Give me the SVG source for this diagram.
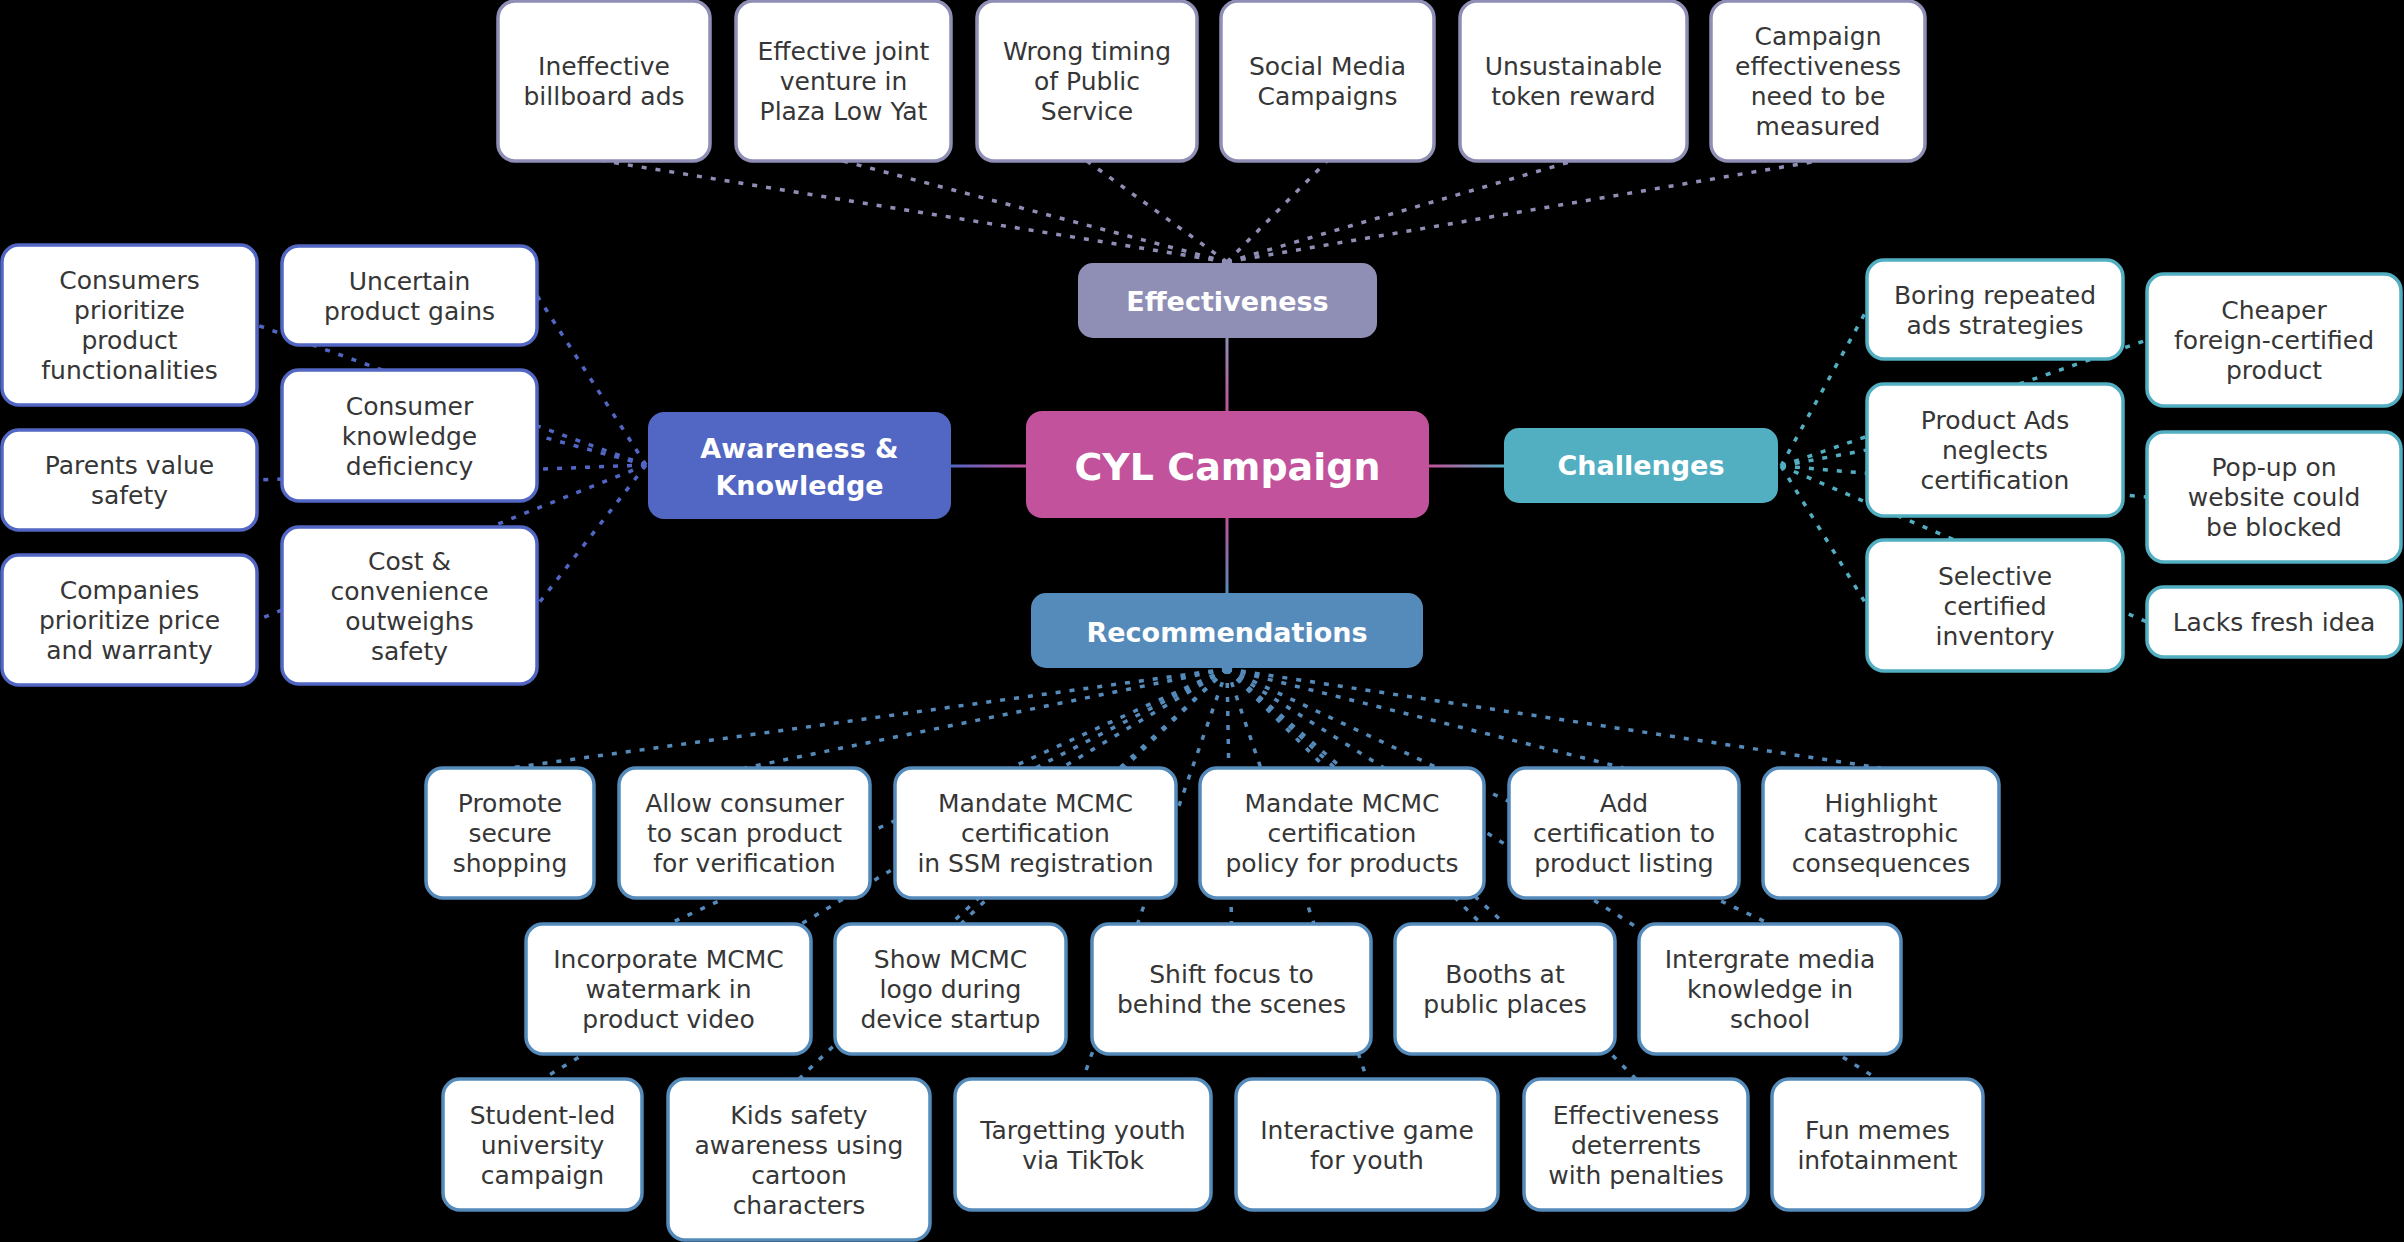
<svg xmlns="http://www.w3.org/2000/svg" width="2404" height="1242" viewBox="0 0 2404 1242">
<defs>
<style>
.box{fill:#ffffff;stroke-width:3.5}
.ef{stroke:#8f8fb6}
.aw{stroke:#5266c3}
.ch{stroke:#52afc2}
.re{stroke:#558bbb}
.t{font-family:'DejaVu Sans','Liberation Sans',sans-serif;font-size:25px;fill:#363636;text-anchor:middle}
.h{font-family:'DejaVu Sans','Liberation Sans',sans-serif;font-weight:bold;font-size:27px;fill:#ffffff;text-anchor:middle}
.d{fill:none;stroke-width:3.5;stroke-dasharray:5 9}
.s{fill:none;stroke-width:3}
</style>
<linearGradient id="gEf" gradientUnits="userSpaceOnUse" x1="1227" y1="338" x2="1227" y2="411"><stop offset="0" stop-color="#8f8fb6"/><stop offset="1" stop-color="#c1529b"/></linearGradient>
<linearGradient id="gRe" gradientUnits="userSpaceOnUse" x1="1227" y1="518" x2="1227" y2="593"><stop offset="0" stop-color="#c1529b"/><stop offset="1" stop-color="#558bbb"/></linearGradient>
<linearGradient id="gAw" gradientUnits="userSpaceOnUse" x1="951" y1="466" x2="1026" y2="466"><stop offset="0" stop-color="#5266c3"/><stop offset="1" stop-color="#c1529b"/></linearGradient>
<linearGradient id="gCh" gradientUnits="userSpaceOnUse" x1="1429" y1="466" x2="1504" y2="466"><stop offset="0" stop-color="#c1529b"/><stop offset="1" stop-color="#52afc2"/></linearGradient>
</defs>
<rect x="0" y="0" width="2404" height="1242" fill="#000000"/>

<g id="connectors">
<line class="s" stroke="url(#gEf)" x1="1227" y1="338" x2="1227" y2="411"/>
<line class="s" stroke="url(#gRe)" x1="1227" y1="518" x2="1227" y2="593"/>
<line class="s" stroke="url(#gAw)" x1="951" y1="466" x2="1026" y2="466"/>
<line class="s" stroke="url(#gCh)" x1="1429" y1="466" x2="1504" y2="466"/>
<g class="d ef">
<line x1="1227" y1="262" x2="604" y2="161"/>
<line x1="1227" y1="262" x2="843" y2="161"/>
<line x1="1227" y1="262" x2="1087" y2="161"/>
<line x1="1227" y1="262" x2="1327" y2="161"/>
<line x1="1227" y1="262" x2="1573" y2="161"/>
<line x1="1227" y1="262" x2="1818" y2="161"/>
</g>
<g class="d aw">
<line x1="646" y1="465" x2="257" y2="325"/>
<line x1="646" y1="465" x2="537" y2="295.5"/>
<line x1="646" y1="465" x2="537" y2="435.5"/>
<line x1="646" y1="465" x2="257" y2="480"/>
<line x1="646" y1="465" x2="257" y2="620"/>
<line x1="646" y1="465" x2="537" y2="605.5"/>
</g>
<g class="d ch">
<line x1="1781" y1="466" x2="1867" y2="309.5"/>
<line x1="1781" y1="466" x2="2147" y2="340"/>
<line x1="1781" y1="466" x2="1867" y2="450"/>
<line x1="1781" y1="466" x2="2147" y2="497"/>
<line x1="1781" y1="466" x2="1867" y2="605.5"/>
<line x1="1781" y1="466" x2="2147" y2="622"/>
</g>
<g class="d re">
<line x1="1227" y1="669" x2="510" y2="768"/>
<line x1="1227" y1="669" x2="744.5" y2="768"/>
<line x1="1227" y1="669" x2="1035.5" y2="768"/>
<line x1="1227" y1="669" x2="1342" y2="768"/>
<line x1="1227" y1="669" x2="1624" y2="768"/>
<line x1="1227" y1="669" x2="1881" y2="768"/>
<line x1="1227" y1="669" x2="668.5" y2="924"/>
<line x1="1227" y1="669" x2="950.5" y2="924"/>
<line x1="1227" y1="669" x2="1231.5" y2="924"/>
<line x1="1227" y1="669" x2="1505" y2="924"/>
<line x1="1227" y1="669" x2="1770" y2="924"/>
<line x1="1227" y1="669" x2="542.5" y2="1079"/>
<line x1="1227" y1="669" x2="799" y2="1079"/>
<line x1="1227" y1="669" x2="1083" y2="1079"/>
<line x1="1227" y1="669" x2="1367" y2="1079"/>
<line x1="1227" y1="669" x2="1636" y2="1079"/>
<line x1="1227" y1="669" x2="1877.5" y2="1079"/>
</g>
</g>

<g id="hub-cyl"><rect x="1026" y="411" width="403" height="107" rx="16" fill="#c1529b"/><text class="h" style="font-size:38px" x="1227.5" y="480">CYL Campaign</text></g>
<g id="hub-effectiveness"><rect x="1078" y="263" width="299" height="75" rx="15" fill="#8f8fb6"/><text class="h" x="1227.5" y="311">Effectiveness</text></g>
<g id="hub-awareness"><rect x="648" y="412" width="303" height="107" rx="16" fill="#5266c3"/><text class="h" x="799.5" y="458">Awareness &amp;</text><text class="h" x="799.5" y="495">Knowledge</text></g>
<g id="hub-challenges"><rect x="1504" y="428" width="274" height="75" rx="15" fill="#52afc2"/><text class="h" x="1641" y="475">Challenges</text></g>
<g id="hub-recommendations"><rect x="1031" y="593" width="392" height="75" rx="15" fill="#558bbb"/><text class="h" x="1227" y="642">Recommendations</text></g>

<g id="e1"><rect class="box ef" x="498" y="1" width="212" height="160" rx="17"/><text class="t" x="604" y="75">Ineffective</text><text class="t" x="604" y="105">billboard ads</text></g>
<g id="e2"><rect class="box ef" x="736" y="1" width="215" height="160" rx="17"/><text class="t" x="843.5" y="60">Effective joint</text><text class="t" x="843.5" y="90">venture in</text><text class="t" x="843.5" y="120">Plaza Low Yat</text></g>
<g id="e3"><rect class="box ef" x="977" y="1" width="220" height="160" rx="17"/><text class="t" x="1087" y="60">Wrong timing</text><text class="t" x="1087" y="90">of Public</text><text class="t" x="1087" y="120">Service</text></g>
<g id="e4"><rect class="box ef" x="1221" y="1" width="213" height="160" rx="17"/><text class="t" x="1327.5" y="75">Social Media</text><text class="t" x="1327.5" y="105">Campaigns</text></g>
<g id="e5"><rect class="box ef" x="1460" y="1" width="227" height="160" rx="17"/><text class="t" x="1573.5" y="75">Unsustainable</text><text class="t" x="1573.5" y="105">token reward</text></g>
<g id="e6"><rect class="box ef" x="1711" y="1" width="214" height="160" rx="17"/><text class="t" x="1818" y="45">Campaign</text><text class="t" x="1818" y="75">effectiveness</text><text class="t" x="1818" y="105">need to be</text><text class="t" x="1818" y="135">measured</text></g>

<g id="a1"><rect class="box aw" x="2" y="245" width="255" height="160" rx="17"/><text class="t" x="129.5" y="289">Consumers</text><text class="t" x="129.5" y="319">prioritize</text><text class="t" x="129.5" y="349">product</text><text class="t" x="129.5" y="379">functionalities</text></g>
<g id="a2"><rect class="box aw" x="282" y="246" width="255" height="99" rx="17"/><text class="t" x="409.5" y="290">Uncertain</text><text class="t" x="409.5" y="320">product gains</text></g>
<g id="a3"><rect class="box aw" x="282" y="370" width="255" height="131" rx="17"/><text class="t" x="409.5" y="414.5">Consumer</text><text class="t" x="409.5" y="444.5">knowledge</text><text class="t" x="409.5" y="474.5">deficiency</text></g>
<g id="a4"><rect class="box aw" x="2" y="430" width="255" height="100" rx="17"/><text class="t" x="129.5" y="474">Parents value</text><text class="t" x="129.5" y="504">safety</text></g>
<g id="a5"><rect class="box aw" x="2" y="555" width="255" height="130" rx="17"/><text class="t" x="129.5" y="599">Companies</text><text class="t" x="129.5" y="629">prioritize price</text><text class="t" x="129.5" y="659">and warranty</text></g>
<g id="a6"><rect class="box aw" x="282" y="527" width="255" height="157" rx="17"/><text class="t" x="409.5" y="569.5">Cost &amp;</text><text class="t" x="409.5" y="599.5">convenience</text><text class="t" x="409.5" y="629.5">outweighs</text><text class="t" x="409.5" y="659.5">safety</text></g>

<g id="c1"><rect class="box ch" x="1867" y="260" width="256" height="99" rx="17"/><text class="t" x="1995" y="303.5">Boring repeated</text><text class="t" x="1995" y="333.5">ads strategies</text></g>
<g id="c2"><rect class="box ch" x="2147" y="274" width="254" height="132" rx="17"/><text class="t" x="2274" y="319">Cheaper</text><text class="t" x="2274" y="349">foreign-certified</text><text class="t" x="2274" y="379">product</text></g>
<g id="c3"><rect class="box ch" x="1867" y="384" width="256" height="132" rx="17"/><text class="t" x="1995" y="429">Product Ads</text><text class="t" x="1995" y="459">neglects</text><text class="t" x="1995" y="489">certification</text></g>
<g id="c4"><rect class="box ch" x="2147" y="432" width="254" height="130" rx="17"/><text class="t" x="2274" y="476">Pop-up on</text><text class="t" x="2274" y="506">website could</text><text class="t" x="2274" y="536">be blocked</text></g>
<g id="c5"><rect class="box ch" x="1867" y="540" width="256" height="131" rx="17"/><text class="t" x="1995" y="584.5">Selective</text><text class="t" x="1995" y="614.5">certified</text><text class="t" x="1995" y="644.5">inventory</text></g>
<g id="c6"><rect class="box ch" x="2147" y="587" width="254" height="70" rx="17"/><text class="t" x="2274" y="631">Lacks fresh idea</text></g>

<g id="r1"><rect class="box re" x="426" y="768" width="168" height="130" rx="17"/><text class="t" x="510" y="812">Promote</text><text class="t" x="510" y="842">secure</text><text class="t" x="510" y="872">shopping</text></g>
<g id="r2"><rect class="box re" x="619" y="768" width="251" height="130" rx="17"/><text class="t" x="744.5" y="812">Allow consumer</text><text class="t" x="744.5" y="842">to scan product</text><text class="t" x="744.5" y="872">for verification</text></g>
<g id="r3"><rect class="box re" x="895" y="768" width="281" height="130" rx="17"/><text class="t" x="1035.5" y="812">Mandate MCMC</text><text class="t" x="1035.5" y="842">certification</text><text class="t" x="1035.5" y="872">in SSM registration</text></g>
<g id="r4"><rect class="box re" x="1200" y="768" width="284" height="130" rx="17"/><text class="t" x="1342" y="812">Mandate MCMC</text><text class="t" x="1342" y="842">certification</text><text class="t" x="1342" y="872">policy for products</text></g>
<g id="r5"><rect class="box re" x="1509" y="768" width="230" height="130" rx="17"/><text class="t" x="1624" y="812">Add</text><text class="t" x="1624" y="842">certification to</text><text class="t" x="1624" y="872">product listing</text></g>
<g id="r6"><rect class="box re" x="1763" y="768" width="236" height="130" rx="17"/><text class="t" x="1881" y="812">Highlight</text><text class="t" x="1881" y="842">catastrophic</text><text class="t" x="1881" y="872">consequences</text></g>

<g id="r7"><rect class="box re" x="526" y="924" width="285" height="130" rx="17"/><text class="t" x="668.5" y="968">Incorporate MCMC</text><text class="t" x="668.5" y="998">watermark in</text><text class="t" x="668.5" y="1028">product video</text></g>
<g id="r8"><rect class="box re" x="835" y="924" width="231" height="130" rx="17"/><text class="t" x="950.5" y="968">Show MCMC</text><text class="t" x="950.5" y="998">logo during</text><text class="t" x="950.5" y="1028">device startup</text></g>
<g id="r9"><rect class="box re" x="1092" y="924" width="279" height="130" rx="17"/><text class="t" x="1231.5" y="983">Shift focus to</text><text class="t" x="1231.5" y="1013">behind the scenes</text></g>
<g id="r10"><rect class="box re" x="1395" y="924" width="220" height="130" rx="17"/><text class="t" x="1505" y="983">Booths at</text><text class="t" x="1505" y="1013">public places</text></g>
<g id="r11"><rect class="box re" x="1639" y="924" width="262" height="130" rx="17"/><text class="t" x="1770" y="968">Intergrate media</text><text class="t" x="1770" y="998">knowledge in</text><text class="t" x="1770" y="1028">school</text></g>

<g id="r12"><rect class="box re" x="443" y="1079" width="199" height="131" rx="17"/><text class="t" x="542.5" y="1123.5">Student-led</text><text class="t" x="542.5" y="1153.5">university</text><text class="t" x="542.5" y="1183.5">campaign</text></g>
<g id="r13"><rect class="box re" x="668" y="1079" width="262" height="161" rx="17"/><text class="t" x="799" y="1123.5">Kids safety</text><text class="t" x="799" y="1153.5">awareness using</text><text class="t" x="799" y="1183.5">cartoon</text><text class="t" x="799" y="1213.5">characters</text></g>
<g id="r14"><rect class="box re" x="955" y="1079" width="256" height="131" rx="17"/><text class="t" x="1083" y="1138.5">Targetting youth</text><text class="t" x="1083" y="1168.5">via TikTok</text></g>
<g id="r15"><rect class="box re" x="1236" y="1079" width="262" height="131" rx="17"/><text class="t" x="1367" y="1138.5">Interactive game</text><text class="t" x="1367" y="1168.5">for youth</text></g>
<g id="r16"><rect class="box re" x="1524" y="1079" width="224" height="131" rx="17"/><text class="t" x="1636" y="1123.5">Effectiveness</text><text class="t" x="1636" y="1153.5">deterrents</text><text class="t" x="1636" y="1183.5">with penalties</text></g>
<g id="r17"><rect class="box re" x="1772" y="1079" width="211" height="131" rx="17"/><text class="t" x="1877.5" y="1138.5">Fun memes</text><text class="t" x="1877.5" y="1168.5">infotainment</text></g>
</svg>
